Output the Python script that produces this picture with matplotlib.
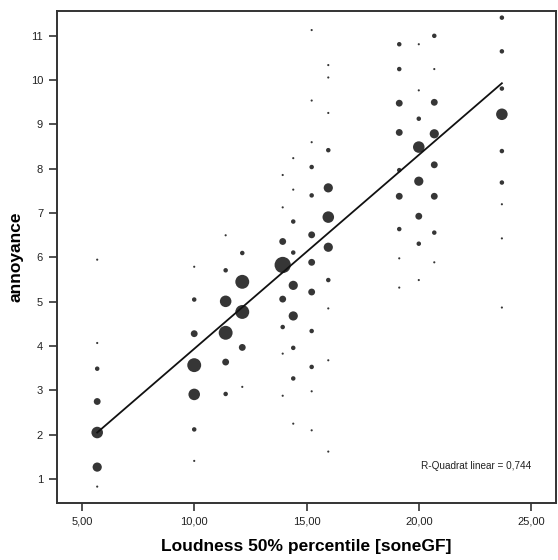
import matplotlib
matplotlib.use("Agg")
import matplotlib.pyplot as plt
import numpy as np

# ---- data ----
loudness = (
    [5.68] * 7 + [10.0] * 7 + [11.4] * 6 + [12.14] * 5 + [13.94] * 8 +
    [14.41] * 9 + [15.23] * 12 + [15.97] * 11 + [19.13] * 9 + [20.0] * 8 +
    [20.69] * 8 + [23.7] * 9
)
annoyance = [
    5.95, 4.07, 3.49, 2.75, 2.05, 1.27, 0.83,
    5.79, 5.05, 4.28, 3.57, 2.91, 2.12, 1.41,
    6.50, 5.71, 5.01, 4.30, 3.64, 2.92,
    6.10, 5.45, 4.77, 3.97, 3.08,
    7.86, 7.13, 6.36, 5.83, 5.06, 4.43, 3.83, 2.88,
    8.24, 7.53, 6.81, 6.11, 5.37, 4.68, 3.96, 3.27, 2.25,
    11.13, 9.54, 8.60, 8.04, 7.40, 6.51, 5.89, 5.22, 4.34, 3.53, 2.98, 2.10,
    10.34, 10.06, 9.26, 8.42, 7.57, 6.91, 6.23, 5.49, 4.85, 3.68, 1.62,
    10.81, 10.25, 9.48, 8.82, 7.97, 7.38, 6.64, 5.98, 5.32,
    10.81, 9.77, 9.13, 8.49, 7.72, 6.93, 6.31, 5.49,
    11.00, 10.25, 9.50, 8.79, 8.09, 7.38, 6.56, 5.89,
    11.41, 10.65, 9.81, 9.23, 8.40, 7.69, 7.20, 6.43, 4.87,
]
counts = [
    1, 1, 2, 3, 5, 4, 1,
    1, 2, 3, 6, 5, 2, 1,
    1, 2, 5, 6, 3, 2,
    2, 6, 6, 3, 1,
    1, 1, 3, 7, 3, 2, 1, 1,
    1, 1, 2, 2, 4, 4, 2, 2, 1,
    1, 1, 1, 2, 2, 3, 3, 3, 2, 2, 1, 1,
    1, 1, 1, 2, 4, 5, 4, 2, 1, 1, 1,
    2, 2, 3, 3, 2, 3, 2, 1, 1,
    1, 1, 2, 5, 4, 3, 2, 1,
    2, 1, 3, 4, 3, 3, 2, 1,
    2, 2, 2, 5, 2, 2, 1, 1, 1,
]
fit_intercept = -0.434
fit_slope = 0.4373
r2_text = "R-Quadrat linear = 0,744"
x_ticks = [5, 10, 15, 20, 25]
x_tick_labels = ["5,00", "10,00", "15,00", "20,00", "25,00"]
y_ticks = list(range(1, 12))
y_tick_labels = [str(v) for v in y_ticks]

plt.rcParams['font.family'] = ['Liberation Sans', 'DejaVu Sans']

fig = plt.figure(figsize=(5.58, 5.60), dpi=100)
ax = fig.add_axes([57 / 558, 57 / 560, 499 / 558, 492 / 560])

x = np.array(loudness)
y = np.array(annoyance)
n = np.array(counts)
diam_px = 2.35 * n - 0.2
diam_pt = diam_px * 72 / 100
ax.scatter(x, y, s=diam_pt ** 2, color="#363636", edgecolors="none", zorder=3)

xl = np.array([x.min(), x.max()])
ax.plot(xl, fit_intercept + fit_slope * xl, color="#111111", lw=1.3, zorder=4)

ax.set_xlim(3.89, 26.11)
ax.set_ylim(0.46, 11.56)
ax.set_xticks(x_ticks)
ax.set_xticklabels(x_tick_labels)
ax.set_yticks(y_ticks)
ax.set_yticklabels(y_tick_labels)
ax.tick_params(axis="both", direction="out", length=6, width=1.2, color="#333333",
               labelsize=8, labelcolor="#222222", pad=4)
for sp in ax.spines.values():
    sp.set_linewidth(1.4)
    sp.set_color("#333333")

ax.set_xlabel("Loudness 50% percentile [soneGF]", fontsize=12.5, fontweight="bold", labelpad=9)
ax.set_ylabel("annoyance", fontsize=12.5, fontweight="bold", labelpad=5)
ax.text(0.951, 0.075, r2_text, transform=ax.transAxes, ha="right", va="center",
        fontsize=7.2, color="#222222")

fig.savefig("out.png", dpi=100)
